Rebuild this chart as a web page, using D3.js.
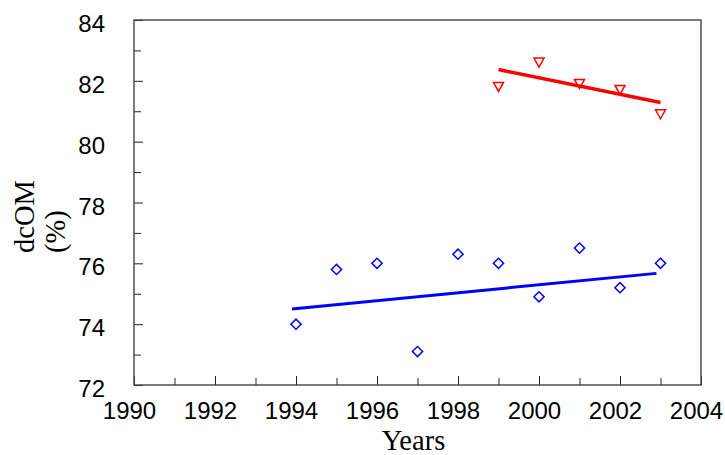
<!DOCTYPE html>
<html>
<head>
<meta charset="utf-8">
<script src="https://cdn.jsdelivr.net/npm/d3@7"></script>
<style>
  body { margin: 0; background: #fff; }
  .tick text { font-family: "Liberation Sans", Arial, sans-serif; font-size: 24px; fill: #000; }
  .title { font-family: "Liberation Serif", "Times New Roman", serif; font-size: 28.5px; fill: #000; }
</style>
</head>
<body>
<div id="chart"></div>
<script>
// Data
var blueYears = [1994, 1995, 1996, 1997, 1998, 1999, 2000, 2001, 2002, 2003];
var blueValues = [74.0, 75.8, 76.0, 73.1, 76.3, 76.0, 74.9, 76.5, 75.2, 76.0];
var redYears = [1999, 2000, 2001, 2002, 2003];
var redValues = [81.8, 82.6, 81.9, 81.7, 80.9];
var blueFitYears = [1993.9, 2002.9];
var blueFitValues = [74.5, 75.67];
var redFitYears = [1999, 2003];
var redFitValues = [82.37, 81.29];
var xMajorTicks = [1990, 1992, 1994, 1996, 1998, 2000, 2002, 2004];
var xMinorTicks = [1991, 1993, 1995, 1997, 1999, 2001, 2003];
var yMajorTicks = [72, 74, 76, 78, 80, 82, 84];
var yMinorTicks = [73, 75, 77, 79, 81, 83];

var margin = {top: 20, right: 24, bottom: 70, left: 134},
    width = 725 - margin.left - margin.right,
    height = 455 - margin.top - margin.bottom;

var svg = d3.select("#chart").append("svg")
    .attr("width", 725)
    .attr("height", 455);

var g = svg.append("g")
    .attr("transform", "translate(" + margin.left + "," + margin.top + ")");

var x = d3.scaleLinear().domain([1990, 2004]).range([0, width]);
var y = d3.scaleLinear().domain([72, 84]).range([height, 0]);

// Axes (ticks point inward)
var xAxis = g.append("g")
    .attr("transform", "translate(0," + height + ")")
    .call(d3.axisBottom(x).tickValues(xMajorTicks).tickSize(-9).tickPadding(17).tickFormat(d3.format("d")));
xAxis.selectAll("text").attr("dx", -5);

g.append("g")
    .attr("transform", "translate(0," + height + ")")
    .call(d3.axisBottom(x).tickValues(xMinorTicks).tickSize(-7).tickFormat(""));

var yAxis = g.append("g")
    .call(d3.axisLeft(y).tickValues(yMajorTicks).tickSize(-9).tickPadding(29));
yAxis.selectAll("text").attr("dy", "0.48em");

g.append("g")
    .call(d3.axisLeft(y).tickValues(yMinorTicks).tickSize(-7).tickFormat(""));

g.selectAll(".domain").remove();
g.selectAll(".tick line").attr("stroke", "#222");

// Frame
g.append("rect")
    .attr("width", width)
    .attr("height", height)
    .attr("fill", "none")
    .attr("stroke", "#444")
    .attr("stroke-width", 1.4);

// Regression lines
var line = d3.line()
    .x(function(d) { return x(d[0]); })
    .y(function(d) { return y(d[1]); });

g.append("path")
    .datum(d3.zip(blueFitYears, blueFitValues))
    .attr("d", line)
    .attr("fill", "none")
    .attr("stroke", "#0000ff")
    .attr("stroke-width", 3);

g.append("path")
    .datum(d3.zip(redFitYears, redFitValues))
    .attr("d", line)
    .attr("fill", "none")
    .attr("stroke", "#ff0000")
    .attr("stroke-width", 3.5);

// Diamond markers
var diamond = d3.symbol().type(d3.symbolSquare).size(52);
g.selectAll(".blue-pt")
    .data(d3.zip(blueYears, blueValues))
    .enter().append("path")
    .attr("class", "blue-pt")
    .attr("d", diamond)
    .attr("transform", function(d) {
       return "translate(" + x(d[0]) + "," + y(d[1]) + ") rotate(45)";
    })
    .attr("fill", "none")
    .attr("stroke", "#0000ff")
    .attr("stroke-width", 1.5);

// Down-pointing triangles, centred on their bounding box
var triDown = {
  draw: function(ctx, size) {
    var w = Math.sqrt(size * 2), h = w * 0.9;
    ctx.moveTo(-w / 2, -h / 2);
    ctx.lineTo(w / 2, -h / 2);
    ctx.lineTo(0, h / 2);
    ctx.closePath();
  }
};
g.selectAll(".red-pt")
    .data(d3.zip(redYears, redValues))
    .enter().append("path")
    .attr("class", "red-pt")
    .attr("d", d3.symbol().type(triDown).size(50))
    .attr("transform", function(d) {
       return "translate(" + x(d[0]) + "," + y(d[1]) + ")";
    })
    .attr("fill", "none")
    .attr("stroke", "#ff0000")
    .attr("stroke-width", 1.5);

// Axis titles
svg.append("text")
    .attr("class", "title")
    .attr("text-anchor", "middle")
    .attr("x", margin.left + x(1996.9))
    .attr("y", 450)
    .text("Years");

svg.append("text")
    .attr("class", "title")
    .attr("transform", "translate(34,253) rotate(-90)")
    .text("dcOM");

svg.append("text")
    .attr("class", "title")
    .attr("transform", "translate(65,253) rotate(-90)")
    .text("(%)");
</script>
</body>
</html>
